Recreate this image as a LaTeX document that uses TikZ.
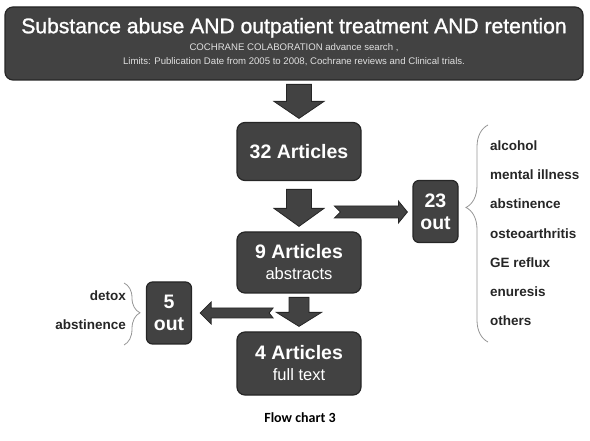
\documentclass[tikz,border=0pt]{standalone}
\usepackage{fontspec}
\setmainfont{Liberation Sans}
\newfontfamily\titlefont{Liberation Sans}[FakeBold=1.2]
\newfontfamily\captfont{Carlito}
\usetikzlibrary{positioning, calc, decorations.pathreplacing}
\definecolor{boxgray}{RGB}{66,66,66}
\definecolor{bracegray}{RGB}{150,150,150}

\begin{document}
\begin{tikzpicture}[x=1pt, y=-1pt,
    every node/.style={align=center},
    box/.style={rectangle, draw=black!85, line width=1.2pt, fill=boxgray, rounded corners=8pt, text=white, inner sep=0pt},
    small/.style={box, rounded corners=6pt, minimum width=45pt, minimum height=62pt, font=\fontsize{19.5}{22}\selectfont\bfseries},
    bigarrow/.style={draw=black!85, line width=0.8pt, fill=boxgray, line join=miter},
    reason/.style={inner sep=0pt, text=black!85, font=\fontsize{13.5}{16}\selectfont\bfseries},
    curly/.style={draw=bracegray, line width=0.8pt, decorate, decoration={brace, amplitude=#1}},
]
\useasboundingbox (0,0) rectangle (590,441);

% search query
\node[box, minimum width=578pt, minimum height=73pt] (query) at (294,43.5) {};
\node[below=8pt of query.north, text=white, font=\titlefont\fontsize{21.1}{24}\selectfont] (qtitle)
  {Substance abuse AND outpatient treatment AND retention};
\node[below=-1pt of qtitle, text=black!12, font=\fontsize{9.6}{14}\selectfont] (qlimits)
  {COCHRANE COLABORATION advance search ,\\ Limits: Publication Date from 2005 to 2008, Cochrane reviews and Clinical trials.};

% article counts
\node[box, minimum width=124pt, minimum height=58pt, font=\fontsize{19.5}{22}\selectfont\bfseries] (art32) at (299,151.5) {32 Articles};
\node[box, minimum width=124pt, minimum height=61pt, font=\fontsize{19.5}{22}\selectfont\bfseries] (art9) at (299,262.5)
  {9 Articles\\[-1pt]{\mdseries\fontsize{16.5}{18}\selectfont abstracts}};
\node[box, minimum width=124pt, minimum height=63pt, font=\fontsize{19.5}{22}\selectfont\bfseries] (art4) at (299,363.5)
  {4 Articles\\[-1pt]{\mdseries\fontsize{16.5}{18}\selectfont full text}};

% excluded
\node[small] (out23) at (435.5,211.5) {23\\out};
\node[small] (out5) at (169,313) {5\\out};

% down arrows
\filldraw[bigarrow] ($(art32.north)+(0,-3.5)$) -- ++(25,-17) -- ++(-12.5,0) -- ++(0,-17) -- ++(-25,0) -- ++(0,17) -- ++(-12.5,0) -- cycle;
\filldraw[bigarrow] ($(art9.north)+(0,-5)$) -- ++(25,-18) -- ++(-12.5,0) -- ++(0,-19) -- ++(-25,0) -- ++(0,19) -- ++(-12.5,0) -- cycle;
\filldraw[bigarrow] ($(out5.east)+(8,0)$) -- ++(11,-11) -- ++(0,6) -- ++(62,0) -- ++(-4,5) -- ++(4,5) -- ++(-62,0) -- ++(0,6) -- cycle;
\filldraw[bigarrow] ($(art4.north)+(0,-5)$) -- ++(22.5,-14) -- ++(-12.5,0) -- ++(0,-15) -- ++(-20,0) -- ++(0,15) -- ++(-12.5,0) -- cycle;

% side arrow
\filldraw[bigarrow] ($(out23.west)+(-5,0.5)$) -- ++(-9,-11) -- ++(0,5) -- ++(-64,0) -- ++(6,6) -- ++(-6,6) -- ++(64,0) -- ++(0,5) -- cycle;

% reasons
\draw[curly=22pt, decoration={aspect=0.62}] (488,342) -- (488,125);
\foreach \why [count=\i] in {alcohol, mental illness, abstinence, osteoarthritis, GE reflux, enuresis, others}
  \node[reason, anchor=west] (why\i) at (490,116.5+29.2*\i) {\why};

\draw[curly=16pt, decoration={aspect=0.48}] (124,283) -- (124,345);
\node[reason, anchor=east] (detox) at (126,296) {detox};
\node[reason, anchor=east] (abst) at (126,325) {abstinence};

\node[font=\captfont\bfseries\fontsize{14}{16}\selectfont] (caption) at (300,418) {Flow chart 3};
\end{tikzpicture}
\end{document}
